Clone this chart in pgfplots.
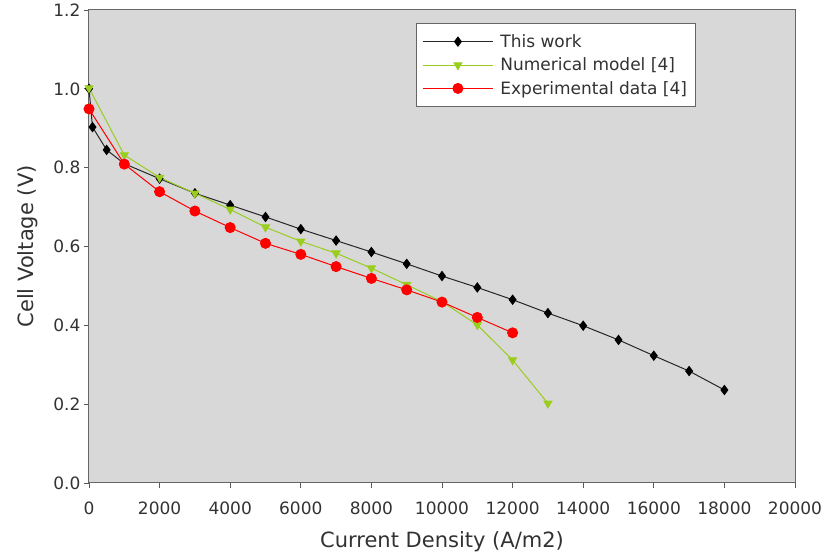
\documentclass[border=0pt]{standalone}
\usepackage{fontspec}
\setmainfont{DejaVu Sans}
\usepackage{pgfplots}
\pgfplotsset{compat=1.18}
\definecolor{bgray}{RGB}{216,216,216}
\definecolor{lgreen}{RGB}{154,205,30}
\definecolor{txt}{RGB}{50,50,50}
\begin{document}
\begin{tikzpicture}
\begin{axis}[
  scale only axis,
  width=706pt, height=473pt,
  xmin=0, xmax=20000, ymin=0, ymax=1.2,
  xtick={0,2000,...,20000},
  ytick={0,0.2,...,1.2},
  scaled x ticks=false,
  xticklabel style={/pgf/number format/1000 sep={}, yshift=-10pt},
  yticklabel style={/pgf/number format/.cd,fixed,fixed zerofill,precision=1},
  /pgf/number format/assume math mode=true,
  tick label style={font=\fontsize{17}{19}\selectfont, text=txt},
  tick align=outside,
  tick pos=left,
  major tick length=5pt,
  tick style={gray!70!black, line width=0.8pt},
  axis line style={gray!80!black, line width=1pt},
  axis background/.style={fill=bgray},
  xlabel={Current Density (A/m2)},
  ylabel={Cell Voltage (V)},
  label style={font=\fontsize{21}{24}\selectfont, text=txt},
  xlabel style={yshift=-10pt},
  ylabel style={yshift=9pt},
  legend cell align=left,
  legend style={at={(0.4632,0.9725)}, anchor=north west, fill=white, draw=gray!80!black, line width=0.8pt,
    font=\fontsize{17}{20}\selectfont, text=txt, row sep=5pt, inner xsep=6pt, inner ysep=9pt,
    /tikz/every odd column/.append style={column sep=5pt}},
  legend image code/.code={%
    \draw[mark repeat=2,mark phase=2,#1] plot coordinates {(0pt,0pt) (35pt,0pt) (70pt,0pt)};},
]
\addplot[black!85, line width=1pt, mark=diamond*, mark size=4.5pt, mark options={fill=black,draw=black}] coordinates {
(0,1.0) (100,0.903) (500,0.845) (1000,0.81) (2000,0.772) (3000,0.735) (4000,0.705) (5000,0.675)
(6000,0.644) (7000,0.615) (8000,0.586) (9000,0.556) (10000,0.525) (11000,0.496) (12000,0.465)
(13000,0.431) (14000,0.399) (15000,0.363) (16000,0.323) (17000,0.284) (18000,0.236)};
\addlegendentry{This work}
\addplot[lgreen, line width=1pt, mark=triangle*, mark size=4.5pt, mark options={rotate=180,fill=lgreen,draw=lgreen}] coordinates {
(0,1.002) (1000,0.832) (2000,0.775) (3000,0.735) (4000,0.694) (5000,0.649) (6000,0.613)
(7000,0.583) (8000,0.545) (9000,0.503) (10000,0.46) (11000,0.401) (12000,0.312) (13000,0.202)};
\addlegendentry{Numerical model [4]}
\addplot[red, line width=1pt, mark=*, mark size=5pt, mark options={fill=red,draw=red}] coordinates {
(0,0.949) (1000,0.809) (2000,0.739) (3000,0.690) (4000,0.648) (5000,0.608) (6000,0.580)
(7000,0.549) (8000,0.519) (9000,0.490) (10000,0.459) (11000,0.420) (12000,0.381)};
\addlegendentry{Experimental data [4]}
\coordinate (sw) at (rel axis cs:0,0);
\coordinate (ne) at (rel axis cs:1,1);
\end{axis}
\pgfresetboundingbox
\path ([shift={(-89pt,-73pt)}]sw) rectangle ([shift={(29pt,10pt)}]ne);
\end{tikzpicture}
\end{document}
